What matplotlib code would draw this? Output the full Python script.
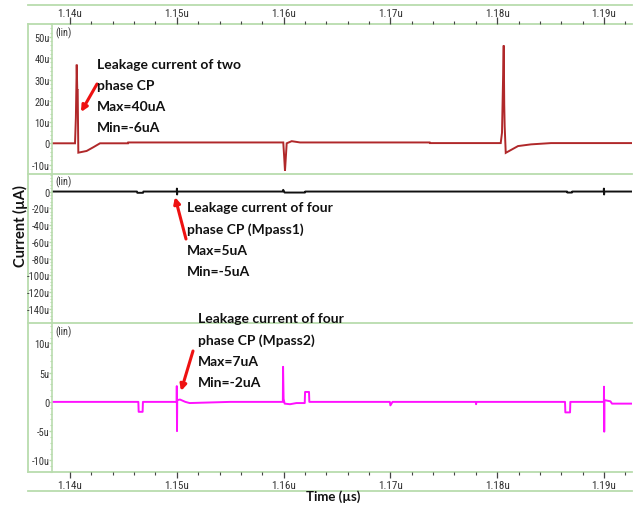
import matplotlib
matplotlib.use("Agg")
import matplotlib.pyplot as plt
from matplotlib.lines import Line2D
from matplotlib import font_manager
import numpy as np

# ---------------- data (time in µs, current in µA) ----------------
t_two = [1.13832, 1.14047, 1.14055, 1.14063, 1.14068, 1.14072, 1.14075, 1.14078,
         1.14156, 1.14220, 1.14281, 1.14543, 1.14545, 1.15997, 1.16005, 1.16013,
         1.16029, 1.16076, 1.16154, 1.17368, 1.17370, 1.18033, 1.18045, 1.18061,
         1.18066, 1.18070, 1.18080, 1.18195, 1.18317, 1.18504, 1.19262]
i_two = [0.0, 0.0, 12.0, 37.0, 25.0, 25.0, 10.0, -4.4,
         -3.6, -1.8, 0.0, 0.0, 0.4, 0.4, -6.0, -13.0,
         0.0, 1.0, 0.4, 0.4, 0.1, 0.1, 5.0, 46.0,
         18.0, 8.0, -4.5, -1.3, -0.5, 0.1, 0.1]

t_four1 = [1.13832, 1.14627, 1.14630, 1.14684, 1.14687, 1.15000, 1.15001, 1.15003,
           1.15004, 1.15994, 1.15996, 1.16010, 1.16200, 1.16203, 1.18654, 1.18657,
           1.18700, 1.18703, 1.18998, 1.18999, 1.19001, 1.19003, 1.19262]
i_four1 = [0.0, 0.0, -1.5, -1.5, 0.0, 0.0, 3.5, -3.5,
           0.0, 0.0, 2.0, -1.2, -1.2, 0.0, 0.0, -1.2,
           -1.2, 0.0, 0.0, 3.5, -3.5, 0.0, 0.0]

t_four2 = [1.13832, 1.14640, 1.14643, 1.14680, 1.14683, 1.14999, 1.15000, 1.15002,
           1.15004, 1.15030, 1.15080, 1.15120, 1.15500, 1.15993, 1.15995, 1.16000,
           1.16010, 1.16060, 1.16120, 1.16198, 1.16201, 1.16238, 1.16241, 1.16995,
           1.17000, 1.17020, 1.17800, 1.17802, 1.17806, 1.18635, 1.18638, 1.18682,
           1.18685, 1.18999, 1.19000, 1.19002, 1.19004, 1.19060, 1.19075, 1.19262]
i_four2 = [0.0, 0.0, -1.7, -1.7, 0.0, 0.0, 2.7, -5.0,
           0.3, 0.4, 0.0, -0.2, 0.0, 0.0, 6.0, 0.5,
           -0.3, -0.4, -0.2, -0.2, 1.7, 1.7, 0.0, 0.0,
           -0.6, 0.0, 0.0, -0.4, 0.0, 0.0, -1.8, -1.8,
           0.0, 0.0, 2.6, -5.1, 0.3, 0.1, -0.3, -0.3]

x_major = [1.14, 1.15, 1.16, 1.17, 1.18, 1.19]
x_labels = ["1.14u", "1.15u", "1.16u", "1.17u", "1.18u", "1.19u"]
y1_ticks = [50, 40, 30, 20, 10, 0, -10]
y1_labels = ["50u", "40u", "30u", "20u", "10u", "0", "-10u"]
y2_ticks = [0, -20, -40, -60, -80, -100, -120, -140]
y2_labels = ["0", "-20u", "-40u", "-60u", "-80u", "-100u", "-120u", "-140u"]
y3_ticks = [10, 5, 0, -5, -10]
y3_labels = ["10u", "5u", "0", "-5u", "-10u"]

notes = [
    ("Leakage current of two\nphase CP\nMax=40uA\nMin=-6uA", (97, 59), (97, 85), (81, 113)),
    ("Leakage current of four\nphase CP (Mpass1)\nMax=5uA\nMin=-5uA", (187, 202), (186, 240), (175, 198)),
    ("Leakage current of four\nphase CP (Mpass2)\nMax=7uA\nMin=-2uA", (198, 313), (193, 352), (181, 392)),
]

# ---------------- fonts ----------------
def first_font(names):
    for n in names:
        try:
            font_manager.findfont(font_manager.FontProperties(family=n),
                                  fallback_to_default=False)
            return n
        except Exception:
            pass
    return "DejaVu Sans"

FONT = [first_font(["Lato"]), "DejaVu Sans"]
NARROW = [first_font(["Liberation Sans Narrow", "Roboto Condensed", "DejaVu Sans Condensed", "Lato"]), "DejaVu Sans"]

# ---------------- layout ----------------
W, H = 638, 506
fig = plt.figure(figsize=(W / 100, H / 100), dpi=100)
fig.patch.set_facecolor("white")

def fx(x):
    return x / W

def fy(y):
    return 1 - y / H

GREEN = "#b9dcae"
TICKC = "#333333"
xlim = (1.138315, 1.192622)

def mkax(top, bottom):
    a = fig.add_axes([fx(52), fy(bottom), fx(632) - fx(52), fy(top) - fy(bottom)])
    a.set_facecolor("none")
    return a

ax1 = mkax(25, 174.5)
ax2 = mkax(174.5, 324)
ax3 = mkax(324, 473)

ax1.plot(t_two, i_two, color="#b0282a", lw=1.4, solid_joinstyle="miter")
ax2.plot(t_four1, i_four1, color="#111111", lw=1.4)
ax3.plot(t_four2, i_four2, color="#ff10ff", lw=1.4)

ax1.set_ylim(-14.2, 56.1)
ax2.set_ylim(-156.7, 21.5)
ax3.set_ylim(-12.0, 13.5)

for ax, yt, yl, minor in [(ax1, y1_ticks, y1_labels, 2), (ax2, y2_ticks, y2_labels, 4),
                          (ax3, y3_ticks, y3_labels, 1)]:
    ax.set_xlim(*xlim)
    for s in ["top", "right", "bottom"]:
        ax.spines[s].set_visible(False)
    ax.spines["left"].set_color(GREEN)
    ax.spines["left"].set_linewidth(1.2)
    ax.set_yticks(yt)
    ax.set_yticklabels(yl)
    lo, hi = ax.get_ylim()
    ax.set_yticks(np.arange(np.ceil(lo / minor) * minor, hi, minor), minor=True)
    ax.tick_params(axis="y", which="major", direction="out", length=2, width=1,
                   color=GREEN, labelsize=7.5, labelcolor=TICKC, pad=-0.3)
    ax.tick_params(axis="y", which="minor", direction="out", length=1.5, width=0.8,
                   color=GREEN)
    for lab in ax.get_yticklabels():
        lab.set_fontfamily(NARROW)
    ax.text(0.006, 0.985, "(lin)", transform=ax.transAxes, ha="left", va="top",
            fontsize=7.5, color=TICKC, family=NARROW)

# top x axis on ax1
ax1.xaxis.tick_top()
ax1.set_xticks(x_major)
ax1.set_xticklabels(x_labels)
ax1.set_xticks(np.arange(1.140, 1.1927, 0.002), minor=True)
ax1.tick_params(axis="x", which="major", direction="out", length=5, width=0.9,
                color="#444444", labelsize=8, labelcolor=TICKC, pad=-0.5)
ax1.tick_params(axis="x", which="minor", direction="out", length=2.5, width=0.8,
                color="#444444")
for lab in ax1.get_xticklabels():
    lab.set_fontfamily(NARROW)

ax2.set_xticks([])

ax3.set_xticks(x_major)
ax3.set_xticklabels(x_labels)
ax3.set_xticks(np.arange(1.140, 1.1927, 0.002), minor=True)
ax3.tick_params(axis="x", which="major", direction="out", length=4, width=0.9,
                color="#444444", labelsize=8, labelcolor=TICKC, pad=1.5)
ax3.tick_params(axis="x", which="minor", direction="out", length=2.5, width=0.8,
                color="#444444")
for lab in ax3.get_xticklabels():
    lab.set_fontfamily(NARROW)

# green frame lines (figure pixels), drawn beneath the axes content
def hline(y, x0=28, x1=632):
    fig.add_artist(Line2D([fx(x0), fx(x1)], [fy(y), fy(y)], color=GREEN, lw=1.3,
                          zorder=-1))

for y in (6, 25, 174.5, 324, 473, 492):
    hline(y)
fig.add_artist(Line2D([fx(28), fx(28)], [fy(25), fy(473)], color=GREEN, lw=1.3,
                      zorder=-1))

# axis titles
fig.text(fx(20), fy(226), "Current (µA)", rotation=90, ha="center", va="center",
         fontsize=10.5, fontweight="bold", family=FONT, color="#111111")
fig.text(fx(333), fy(497), "Time (µs)", ha="center", va="center",
         fontsize=9.5, fontweight="bold", family=FONT, color="#111111")

# annotations
for txt, (tx, ty), (ax0, ay0), (ax1_, ay1_) in notes:
    fig.text(fx(tx), fy(ty), txt, ha="left", va="top", fontsize=10,
             fontweight="bold", family=FONT, color="#111111", linespacing=1.9)
    fig.add_artist(matplotlib.patches.FancyArrowPatch(
        (fx(ax0), fy(ay0)), (fx(ax1_), fy(ay1_)), transform=fig.transFigure,
        arrowstyle="-|>", mutation_scale=9, color="#ee1111", lw=2.2,
        shrinkA=0, shrinkB=0))

fig.savefig("out.png", dpi=100)
